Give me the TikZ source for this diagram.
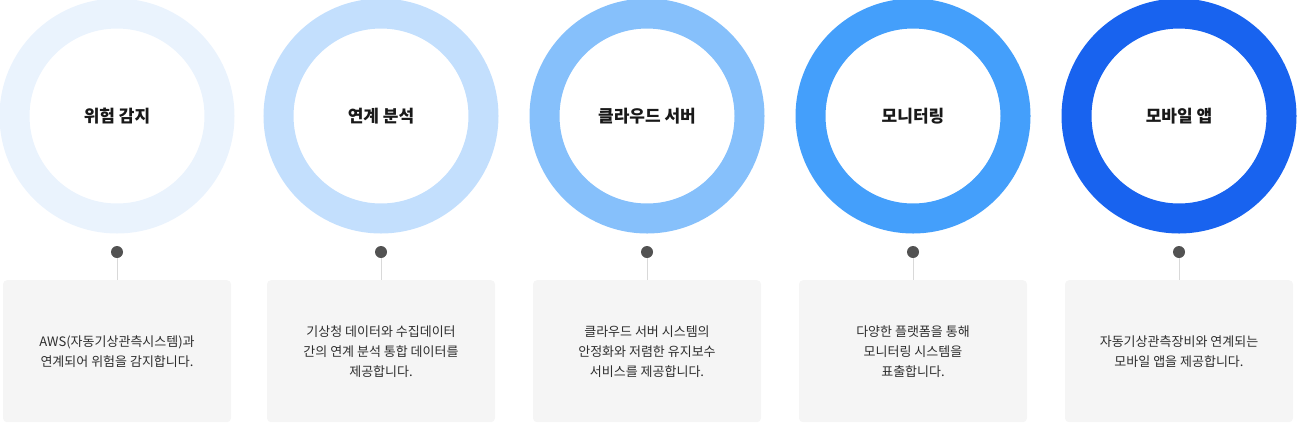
\documentclass[tikz,border=0pt]{standalone}
\usepackage{fontspec}
\setmainfont{Noto Sans CJK KR}
\begin{document}
\begin{tikzpicture}[x=1pt,y=-1pt,
  ring/.style={line width=30pt},
  title/.style={font=\fontsize{17}{20}\selectfont\bfseries,text=black!90},
  dot/.style={circle,fill=black!68,inner sep=0pt,minimum size=12pt},
  card/.style={fill=black!4,rounded corners=4pt,minimum width=228pt,minimum height=142pt,inner sep=0pt,anchor=north},
  body/.style={font=\fontsize{13}{20}\selectfont,text=black!82,align=center},
  stem/.style={draw=black!15,line width=1pt}]
\useasboundingbox (0,0) rectangle (1300,424);
\definecolor{c1}{HTML}{EAF3FD}
\definecolor{c2}{HTML}{C3DFFD}
\definecolor{c3}{HTML}{86C0FB}
\definecolor{c4}{HTML}{449FFB}
\definecolor{c5}{HTML}{1863EF}
\foreach \i/\x/\c/\t/\b in {
 1/117/c1/{위험 감지}/{AWS(자동기상관측시스템)과\\연계되어 위험을 감지합니다.},
 2/381/c2/{연계 분석}/{기상청 데이터와 수집데이터\\간의 연계 분석 통합 데이터를\\제공합니다.},
 3/647/c3/{클라우드 서버}/{클라우드 서버 시스템의\\안정화와 저렴한 유지보수\\서비스를 제공합니다.},
 4/913/c4/{모니터링}/{다양한 플랫폼을 통해\\모니터링 시스템을\\표출합니다.},
 5/1179/c5/{모바일 앱}/{자동기상관측장비와 연계되는\\모바일 앱을 제공합니다.}}{
  \draw[ring,draw=\c] (\x,116) circle (102.5);
  \node[title] (t\i) at (\x,116) {\t};
  \node[dot] (d\i) at (\x,252) {};
  \node[card] (c\i) at (\x,280) {};
  \draw[stem] (d\i) -- (c\i.north);
  \node[body] (b\i) at (c\i.center) {\b};
}
\end{tikzpicture}
\end{document}
